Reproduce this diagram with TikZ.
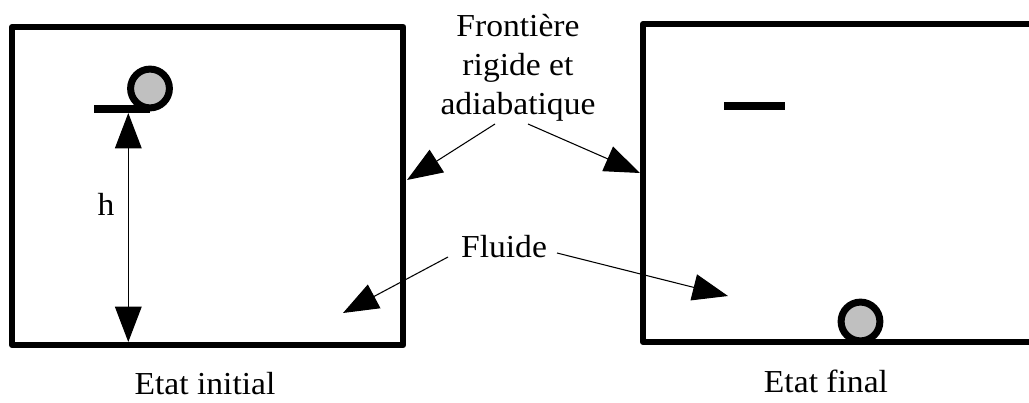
\documentclass[tikz,border=0pt]{standalone}
\usepackage{fontspec}
\newfontfamily\lab[FakeStretch=1.05]{Liberation Serif}
\usetikzlibrary{arrows.meta}
\definecolor{ballgray}{RGB}{192,192,192}
\begin{document}
\begin{tikzpicture}[x=0.75pt,y=-0.75pt,
  wall/.style={draw=black,line width=4.5pt,line join=round,rectangle,inner sep=0pt,outer sep=0pt},
  ring/.style={circle,draw=black,fill=ballgray,line width=5.25pt,minimum size=29.1pt,inner sep=0pt,outer sep=0pt},
  bar/.style={line width=5.6pt},
  arr/.style={line width=0.8pt,-{Triangle[length=26.5pt,width=20pt]}},
  dim/.style={line width=0.8pt,{Triangle[length=26.5pt,width=20pt]}-{Triangle[length=26.5pt,width=20pt]}},
  lbl/.style={font=\lab\fontsize{24}{28.9}\selectfont,inner sep=0pt}]
\useasboundingbox (0,0) rectangle (1029,403);
\clip (0,0) rectangle (1029,403);
\fill[white] (0,0) rectangle (1029,403);
% boxes
\node[wall,minimum width=293.6pt,minimum height=238.5pt] (boxA) at (207.75,186) {};
\node[wall,minimum width=312.75pt,minimum height=238.5pt] (boxB) at (851.5,183) {};
% initial state
\node[ring] (ballA) at (150,88.5) {};
\coordinate (barA) at (94,109);
\draw[bar] (barA) -- (barA -| ballA.south);
\coordinate (hTop) at (128.3,113);
\coordinate (hBot) at (128.3,342);
\draw[dim] (hTop) -- (hBot);
\node[lbl,anchor=base] (h) at (106,215) {h};
% final state
\coordinate (barB1) at (724,106);
\coordinate (barB2) at (785,106);
\draw[bar] (barB1) -- (barB2);
\node[ring] (ballB) at (860.5,321.5) {};
% labels
\node[lbl,align=center,anchor=base] (front) at (518,114) {Frontière\\rigide et\\adiabatique};
\node[lbl,anchor=base] (fluide) at (504,257) {Fluide};
\node[lbl,anchor=base] (initial) at (205,394) {Etat initial};
\node[lbl,anchor=base] (final) at (826,392) {Etat final};
% arrows
\coordinate (fA) at (495,124);
\coordinate (tA) at (407,180);
\coordinate (fB) at (528,124);
\coordinate (tB) at (640,173);
\draw[arr] (fA) -- (tA);
\draw[arr] (fB) -- (tB);
\coordinate (gA) at (448,257);
\coordinate (uA) at (343,313);
\coordinate (gB) at (557,253);
\coordinate (uB) at (728,296);
\draw[arr] (gA) -- (uA);
\draw[arr] (gB) -- (uB);
\end{tikzpicture}
\end{document}
